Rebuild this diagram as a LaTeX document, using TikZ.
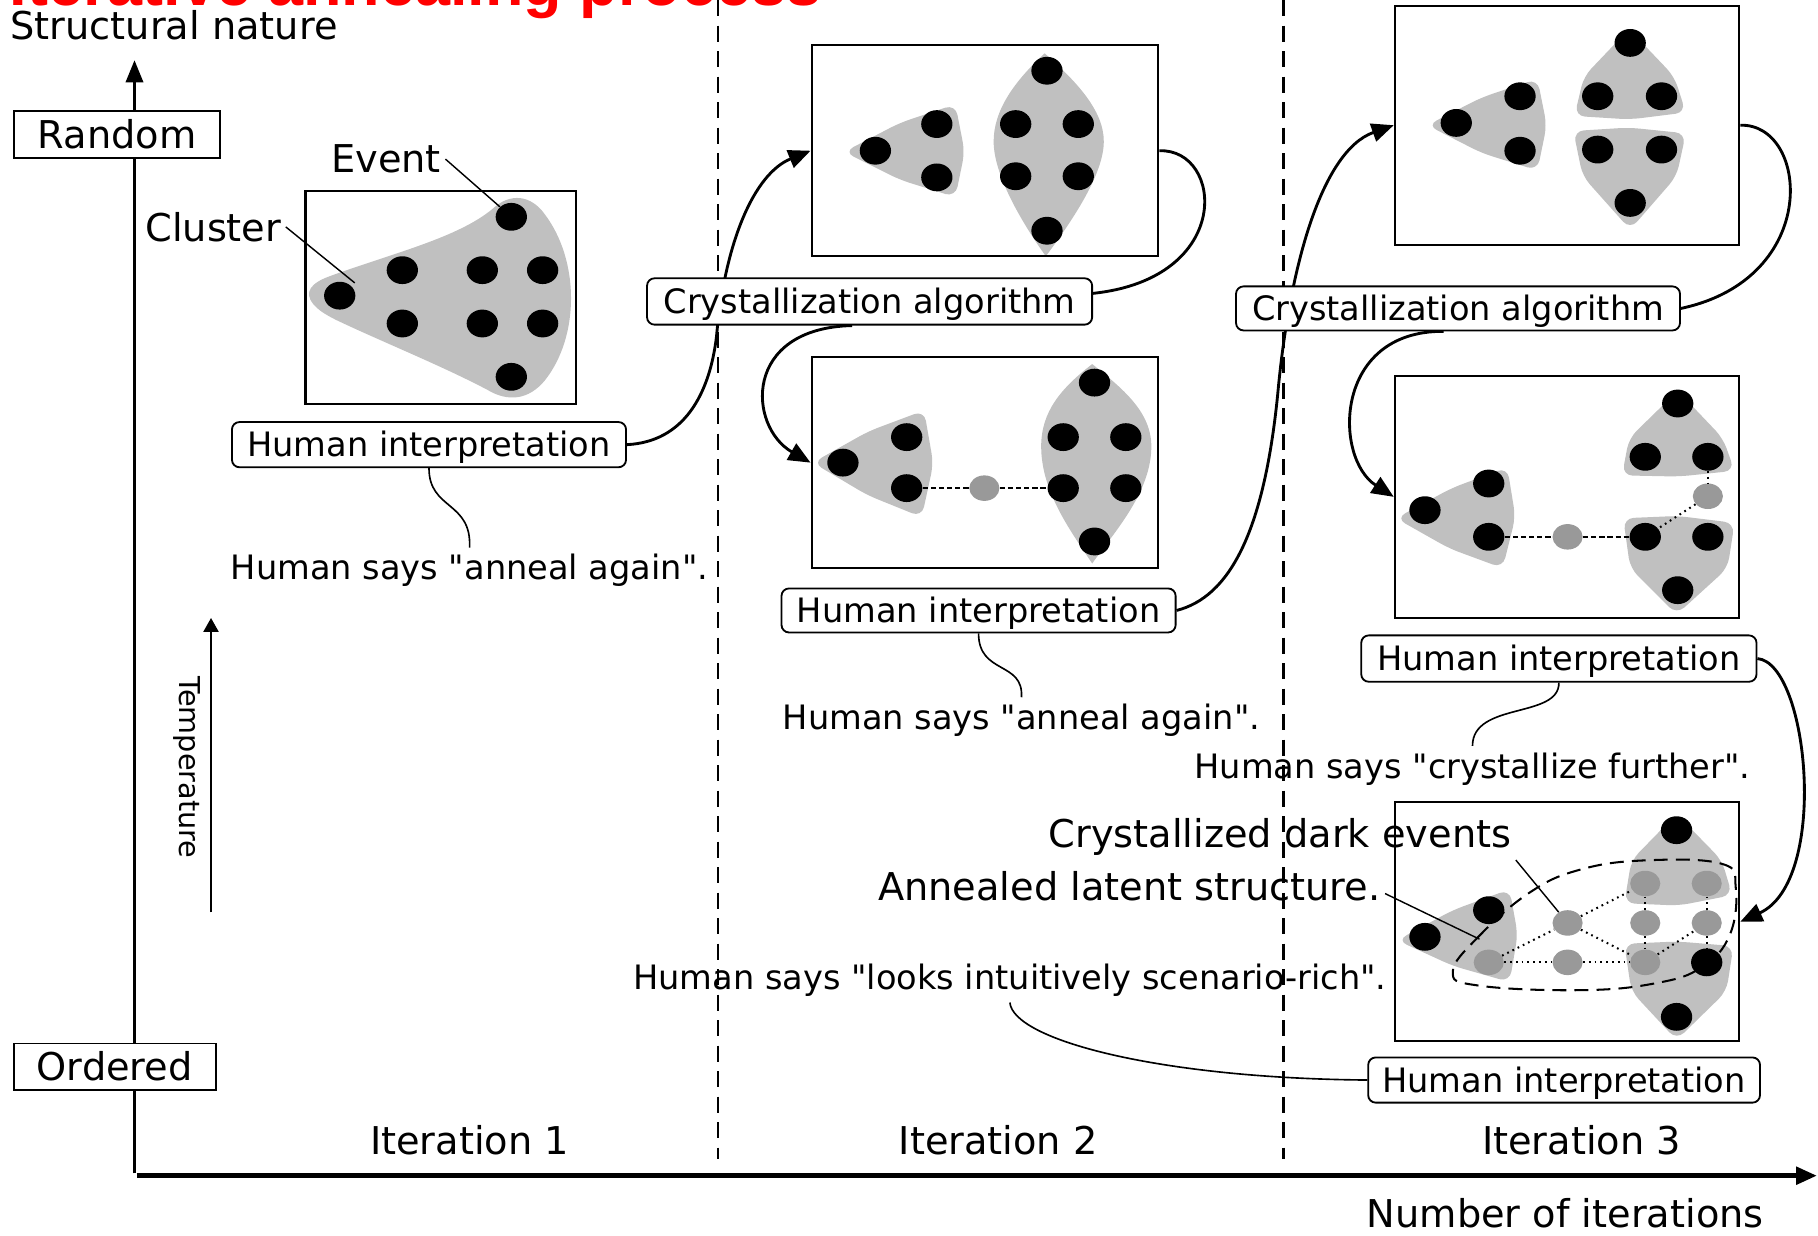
\documentclass[tikz,border=0pt]{standalone}
\usepackage{fontspec}
\usetikzlibrary{arrows.meta,shapes.geometric}
\newfontfamily\dvs{DejaVu Sans}
\newfontfamily\lib{Liberation Sans}
\newcommand\fbig{\dvs\fontsize{18.8}{22}\selectfont}
\newcommand\flbl{\dvs\fontsize{16.5}{20}\selectfont}
\newcommand\ftemp{\dvs\fontsize{14.1}{17}\selectfont}
\newcommand\fttl{\lib\bfseries\fontsize{30.9}{36}\selectfont}
\definecolor{clgray}{HTML}{C0C0C0}
\definecolor{dotgray}{HTML}{999999}
\definecolor{ttlred}{HTML}{FF0000}
\pgfdeclarelayer{back}
\pgfdeclarelayer{mid}
\pgfsetlayers{back,mid,main}
\begin{document}
\begin{tikzpicture}[x=0.02cm,y=-0.02cm,
  pane/.style={draw, line width=1.1pt, inner sep=0pt},
  bdot/.style={ellipse, fill=black, inner sep=0pt, minimum width=0.54cm, minimum height=0.48cm},
  gdot/.style={ellipse, fill=dotgray, inner sep=0pt, minimum width=0.52cm, minimum height=0.44cm},
  clfill/.style={fill=clgray, rounded corners=0.18cm},
  tagbox/.style={draw, line width=0.9pt, fill=white, rounded corners=0.13cm, inner sep=0pt, font=\flbl, text height=12pt, text depth=0pt},
  sqbox/.style={draw, line width=0.9pt, fill=white, inner sep=0pt, font=\fbig, text height=13.7pt, text depth=0pt},
  bigtxt/.style={font=\fbig, inner sep=2pt, anchor=base},
  saytxt/.style={font=\flbl, inner sep=3pt, anchor=base},
  conn/.style={line width=1.4pt},
  arr/.style={conn, -{Triangle[length=0.38cm,width=0.32cm]}},
  leaderline/.style={line width=0.7pt},
  sqline/.style={line width=0.8pt},
  divider/.style={line width=1pt, dash pattern=on 0.28cm off 0.16cm},
  axisline/.style={line width=1.1pt},
  dashlink/.style={line width=1pt, dash pattern=on 0.09cm off 0.05cm},
  dotlink/.style={line width=1pt, dash pattern=on 0.03cm off 0.07cm},
  elldash/.style={line width=1pt, dash pattern=on 0.24cm off 0.14cm}]
\useasboundingbox (0,0) rectangle (1568,1066);
\begin{pgfonlayer}{back}
\fill[white] (0,0) rectangle (1568,1066);
% iteration 1 cluster
\fill[clgray] (270,262) .. controls (262,252) and (268,244) .. (285,238) .. controls (340,218) and (395,205) .. (425,180) .. controls (440,166) and (458,168) .. (470,185) .. controls (500,225) and (500,290) .. (470,328) .. controls (456,345) and (438,347) .. (420,336) .. controls (380,315) and (330,295) .. (290,276) .. controls (280,271) and (274,267) .. (270,262) -- cycle;
% iteration 2 top
\fill[clfill] (728,131) -- (776,106) -- (824,90) -- (832,131) -- (824,170) -- (776,155) -- cycle;
\fill[clgray] (901,46) .. controls (875,70) and (857,95) .. (857,122) .. controls (857,150) and (880,190) .. (902,221) .. controls (925,190) and (952,150) .. (952,122) .. controls (952,95) and (928,70) .. (901,46) -- cycle;
% iteration 2 bottom
\fill[clfill] (701,399) -- (749,372) -- (797,354) -- (805,400) -- (795,446) -- (748,427) -- cycle;
\fill[clgray] (942,314) .. controls (915,335) and (898,355) .. (898,385) .. controls (898,425) and (925,460) .. (942,486) .. controls (960,460) and (993,425) .. (993,385) .. controls (993,355) and (968,335) .. (942,314) -- cycle;
% iteration 3 top
\fill[clfill] (1231,108) -- (1278,84) -- (1326,68) -- (1334,108) -- (1326,147) -- (1278,132) -- cycle;
\fill[clfill] (1405,25) -- (1444,66) -- (1454,97) -- (1406,103) -- (1358,100) -- (1366,66) -- cycle;
\fill[clfill] (1357,113) -- (1405,110) -- (1454,115) -- (1446,152) -- (1406,198) -- (1365,152) -- cycle;
% iteration 3 middle
\fill[clfill] (1204,447) -- (1252,421) -- (1300,403) -- (1307,446) -- (1296,490) -- (1250,473) -- cycle;
\fill[clfill] (1447,337) -- (1486,378) -- (1496,406) -- (1448,411) -- (1399,410) -- (1405,378) -- cycle;
\fill[clfill] (1400,447) -- (1447,445) -- (1496,451) -- (1490,490) -- (1446,530) -- (1406,490) -- cycle;
% iteration 3 bottom
\fill[clfill] (1205,811) -- (1253,785) -- (1302,767) -- (1309,806) -- (1302,847) -- (1253,833) -- cycle;
\fill[clfill] (1446,702) -- (1485,742) -- (1494,772) -- (1448,781) -- (1401,779) -- (1407,742) -- cycle;
\fill[clfill] (1401,814) -- (1447,812) -- (1495,816) -- (1489,855) -- (1446,897) -- (1407,855) -- cycle;
\end{pgfonlayer}

% frames
\node[pane, minimum width=4.66cm, minimum height=3.68cm] (b1) at (380,256.5) {};
\node[pane, minimum width=5.98cm, minimum height=3.64cm] (b2t) at (849.5,130) {};
\node[pane, minimum width=5.98cm, minimum height=3.64cm] (b2b) at (849.5,399) {};
\node[pane, minimum width=5.94cm, minimum height=4.12cm] (b3t) at (1351.5,108) {};
\node[pane, minimum width=5.94cm, minimum height=4.18cm] (b3m) at (1351.5,428.5) {};
\node[pane, minimum width=5.94cm, minimum height=4.12cm] (b3b) at (1351.5,795) {};

% dots iteration 1
\node[bdot] (a1) at (293,255) {};
\node[bdot] (a2) at (347,233) {};
\node[bdot] (a3) at (347,279) {};
\node[bdot] (a4) at (416,233) {};
\node[bdot] (a5) at (416,279) {};
\node[bdot] (a6) at (468,233) {};
\node[bdot] (a7) at (468,279) {};
\node[bdot] (a8) at (441,187) {};
\node[bdot] (a9) at (441,325) {};
% iteration 2 top
\node[bdot] (p1) at (755,130) {};
\node[bdot] (p2) at (808,107) {};
\node[bdot] (p3) at (808,153) {};
\node[bdot] (q1) at (903,61) {};
\node[bdot] (q2) at (876,107) {};
\node[bdot] (q3) at (930,107) {};
\node[bdot] (q4) at (876,152) {};
\node[bdot] (q5) at (930,152) {};
\node[bdot] (q6) at (903,199) {};
% iteration 2 bottom
\node[bdot] (r1) at (727,399) {};
\node[bdot] (r2) at (782,377) {};
\node[bdot] (r3) at (782,421) {};
\node[gdot] (rg) at (849,421) {};
\node[bdot] (s1) at (944,330) {};
\node[bdot] (s2) at (917,377) {};
\node[bdot] (s3) at (971,377) {};
\node[bdot] (s4) at (917,421) {};
\node[bdot] (s5) at (971,421) {};
\node[bdot] (s6) at (944,467) {};
\draw[dashlink] (r3) -- (rg);
\draw[dashlink] (rg) -- (s4);
% iteration 3 top
\node[bdot] (t1) at (1256,106) {};
\node[bdot] (t2) at (1311,83) {};
\node[bdot] (t3) at (1311,130) {};
\node[bdot] (u1) at (1406,37) {};
\node[bdot] (u2) at (1378,83) {};
\node[bdot] (u3) at (1433,83) {};
\node[bdot] (v1) at (1378,129) {};
\node[bdot] (v2) at (1433,129) {};
\node[bdot] (v3) at (1406,175) {};
% iteration 3 middle
\node[bdot] (m1) at (1229,440) {};
\node[bdot] (m2) at (1284,417) {};
\node[bdot] (m3) at (1284,463) {};
\node[gdot] (mg) at (1352,463) {};
\node[bdot] (n1) at (1447,348) {};
\node[bdot] (n2) at (1419,394) {};
\node[bdot] (n3) at (1473,394) {};
\node[gdot] (ng) at (1473,428) {};
\node[bdot] (o1) at (1419,463) {};
\node[bdot] (o2) at (1473,463) {};
\node[bdot] (o3) at (1447,509) {};
\draw[dashlink] (m3) -- (mg);
\draw[dashlink] (mg) -- (o1);
\draw[dotlink] (n3) -- (ng);
\draw[dotlink] (ng) -- (o1);
% iteration 3 bottom
\node[bdot] (k1) at (1229,808) {};
\node[bdot] (k2) at (1284,785) {};
\node[gdot] (kg) at (1284,830) {};
\node[bdot] (w1) at (1446,716) {};
\node[gdot] (wg1) at (1419,762) {};
\node[gdot] (wg2) at (1472,762) {};
\node[gdot] (c1) at (1352,796) {};
\node[gdot] (c2) at (1419,796) {};
\node[gdot] (c3) at (1472,796) {};
\node[gdot] (c4) at (1352,830) {};
\node[gdot] (lg1) at (1419,830) {};
\node[bdot] (lb1) at (1472,830) {};
\node[bdot] (lb2) at (1446,877) {};
\draw[dotlink] (kg) -- (c4);
\draw[dotlink] (c4) -- (lg1);
\draw[dotlink] (kg) -- (c1);
\draw[dotlink] (c1) -- (wg1);
\draw[dotlink] (c1) -- (lg1);
\draw[dotlink] (wg1) -- (c2);
\draw[dotlink] (c2) -- (lg1);
\draw[dotlink] (wg2) -- (c3);
\draw[dotlink] (c3) -- (lb1);
\draw[dotlink] (lg1) -- (c3);
\draw[elldash] plot[smooth cycle, tension=0.7] coordinates {(1253,838) (1275,808) (1319,770) (1363,750) (1420,742) (1485,745) (1497,765) (1492,806) (1468,834) (1428,848) (1363,854) (1275,850)};

% boxes with labels
\node[sqbox, minimum width=3.56cm, minimum height=0.8cm] (random) at (101,116) {Random};
\node[sqbox, minimum width=3.48cm, minimum height=0.8cm] (ordered) at (99,920) {Ordered};
\node[tagbox, minimum width=6.8cm, minimum height=0.78cm] (hi1) at (370,383.5) {Human interpretation};
\node[tagbox, minimum width=7.68cm, minimum height=0.8cm] (ca2) at (750,260) {Crystallization algorithm};
\node[tagbox, minimum width=6.8cm, minimum height=0.76cm] (hi2) at (844,526.5) {Human interpretation};
\node[tagbox, minimum width=7.66cm, minimum height=0.76cm] (ca3) at (1257.5,266) {Crystallization algorithm};
\node[tagbox, minimum width=6.82cm, minimum height=0.8cm] (hi3) at (1344.5,568) {Human interpretation};
\node[tagbox, minimum width=6.76cm, minimum height=0.78cm] (hi4) at (1349,931.5) {Human interpretation};

% texts
\node[anchor=base west, inner sep=0pt, text=ttlred, font=\fttl] (title) at (8,5) {Iterative annealing process};
\node[bigtxt] (snat) at (150,34) {Structural nature};
\node[bigtxt] (event) at (333,149) {Event};
\node[bigtxt] (cluster) at (184,208) {Cluster};
\node[saytxt] (says1) at (405,500) {Human says "anneal again".};
\node[saytxt] (says2) at (881,629) {Human says "anneal again".};
\node[saytxt] (says3) at (1270,671) {Human says "crystallize further".};
\node[saytxt] (says4) at (871,853) {Human says "looks intuitively scenario-rich".};
\node[bigtxt] (cde) at (1104,731) {Crystallized dark events};
\node[bigtxt] (als) at (974,777) {Annealed latent structure.};
\node[bigtxt] (it1) at (405,996) {Iteration 1};
\node[bigtxt] (it2) at (861,996) {Iteration 2};
\node[bigtxt] (it3) at (1364,996) {Iteration 3};
\node[bigtxt] (noi) at (1350,1059) {Number of iterations};
\node[font=\ftemp, rotate=-90, inner sep=0pt] (temp) at (161,662) {Temperature};

% leaders
\coordinate (clpt) at (306,244);
\coordinate (alspt) at (1276,810);
\draw[leaderline] (event.east) -- (a8);
\draw[leaderline] (cluster.east) -- (clpt);
\draw[leaderline] (cde.south east) -- (c1);
\draw[leaderline] ([yshift=-0.12cm]als.east) -- (alspt);

% squiggles
\draw[sqline] (hi1.south) .. controls (370,440) and (407,432) .. (says1.north);
\draw[sqline] (hi2.south) .. controls (844,582) and (883,570) .. (says2.north);
\draw[sqline] (hi3.south) .. controls (1345,620) and (1270,605) .. (says3.north);

\begin{pgfonlayer}{mid}
\coordinate (dv1t) at (619,0);
\coordinate (dv1b) at (619,1000);
\coordinate (dv2t) at (1107,0);
\coordinate (dv2b) at (1107,1000);
\draw[divider] (dv1t) -- (dv1b);
\draw[divider] (dv2t) -- (dv2b);
\coordinate (yo) at (116,1012);
\coordinate (ytop) at (116,52);
\coordinate (xo) at (118,1014);
\coordinate (xe) at (1567,1014);
\coordinate (tb) at (182,787);
\coordinate (tt) at (182,533);
\draw[axisline, -{Triangle[length=0.38cm,width=0.3cm]}] (yo) -- (ytop);
\draw[line width=2.2pt, -{Triangle[length=0.36cm,width=0.3cm]}] (xo) -- (xe);
\draw[line width=1pt, -{Triangle[length=0.24cm,width=0.26cm]}] (tb) -- (tt);
% connectors
\draw[arr] (hi1.east) .. controls (590,381) and (612,340) .. (618,290) .. controls (625,210) and (650,150) .. (b2t.west);
\draw[conn] (b2t.east) .. controls (1055,128) and (1065,240) .. ([yshift=0.14cm]ca2.east);
\draw[arr] ([xshift=-0.3cm]ca2.south) .. controls (640,283) and (645,368) .. (b2b.west);
\draw[arr] (hi2.east) .. controls (1060,515) and (1090,460) .. (1102,340) .. controls (1112,230) and (1140,130) .. (b3t.west);
\draw[conn] (b3t.east) .. controls (1560,106) and (1572,240) .. (ca3.east);
\draw[arr] ([xshift=-0.25cm]ca3.south) .. controls (1150,285) and (1150,395) .. (b3m.west);
\draw[arr] (hi3.east) .. controls (1560,572) and (1578,760) .. (b3b.east);
\draw[sqline] (says4.south) .. controls (874,897) and (1000,930) .. (hi4.west);
\end{pgfonlayer}
\end{tikzpicture}
\end{document}
